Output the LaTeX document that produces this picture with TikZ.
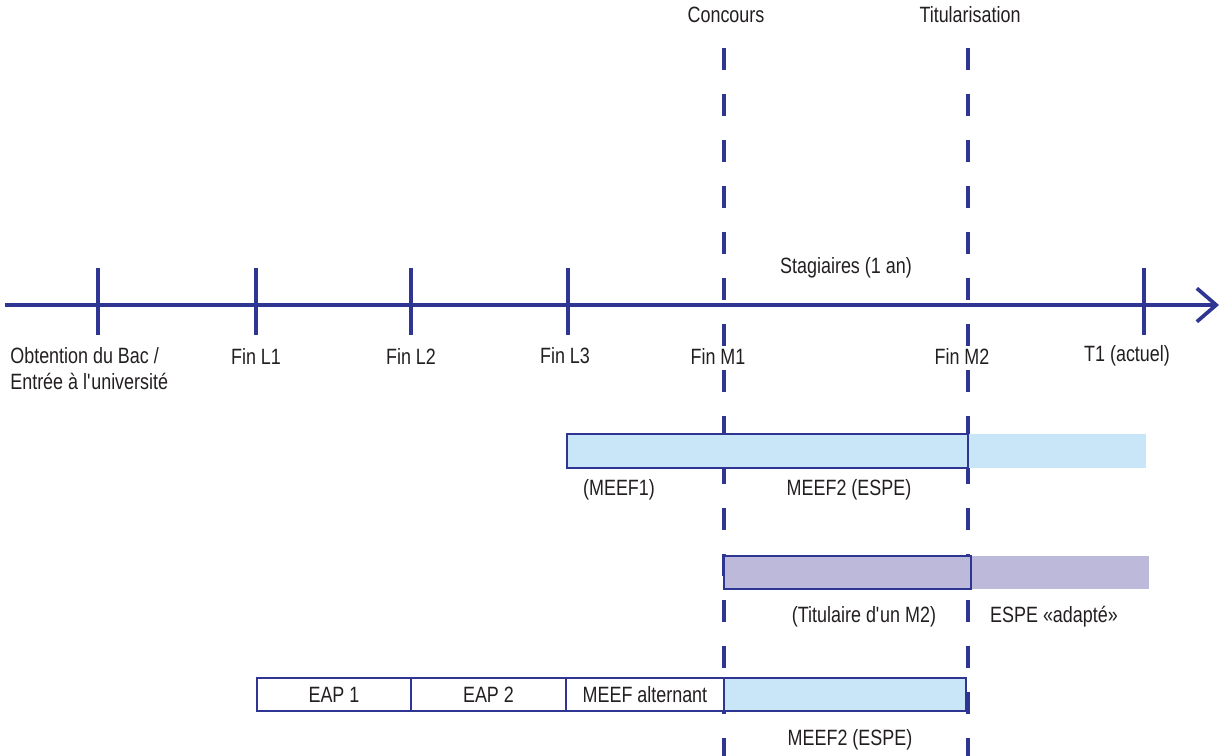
\documentclass[tikz,border=0pt]{standalone}
\usepackage{fontspec}
\setmainfont{Liberation Sans}[FakeStretch=0.81]
\usepackage{xcolor}
\usetikzlibrary{arrows.meta, positioning}

\definecolor{axisblue}{HTML}{2E3592}
\definecolor{barblue}{HTML}{C9E6F9}
\definecolor{barlilac}{HTML}{BDB9DA}
\definecolor{txtgray}{HTML}{231F20}

\begin{document}
\begin{tikzpicture}[
    x=0.02cm, y=-0.02cm,
    every node/.style={font=\fontsize{12.6}{14.7}\selectfont, text=txtgray, inner sep=0pt},
    timeaxis/.style={line width=2.1pt, draw=axisblue, -{Straight Barb[length=11pt, width=19pt, line width=2.1pt]}},
    tick/.style={line width=2.1pt, draw=axisblue},
    milestone/.style={line width=2.1pt, draw=axisblue, dash pattern=on 0.44cm off 0.48cm},
    barbox/.style={rectangle, draw=axisblue, line width=1.2pt, outer sep=0pt, minimum height=0.67cm, align=center},
    barext/.style={rectangle, outer sep=0pt, minimum height=0.67cm}
]
\useasboundingbox (0,0) rectangle (1223,756);

% jalons
\coordinate (concours) at (724,48);
\coordinate (concoursend) at (724,756);
\coordinate (titu) at (968,48);
\coordinate (tituend) at (968,756);
\draw[milestone] (concours) -- (concoursend);
\draw[milestone] (titu) -- (tituend);
\node (lconcours) at (726,15) {Concours};
\node (ltitu) at (970,15) {Titularisation};

% axe du temps
\coordinate (axstart) at (5,305);
\coordinate (axend) at (1219,305);
\draw[timeaxis] (axstart) -- (axend);
\coordinate (bac) at (98,305);
\coordinate (l1) at (256,305);
\coordinate (l2) at (411,305);
\coordinate (l3) at (568,305);
\coordinate (t1) at (1144,305);
\foreach \c in {bac,l1,l2,l3,t1}
    \draw[tick] (\c) ++(0,-37) -- ++(0,67);

\node (stag) at (846,268) {Stagiaires (1 an)};
\node[align=left, anchor=west] (lbac) at (10,369) {Obtention du Bac /\\Entrée à l\textquotesingle université};
\node (ll1) at (256,356) {Fin L1};
\node (ll2) at (411,356) {Fin L2};
\node (ll3) at (565,356) {Fin L3};
\node (lm1) at (718,356) {Fin M1};
\node (lm2) at (962,356) {Fin M2};
\node (lt1) at (1127,356) {T1 (actuel)};

% parcours 1
\node[barext, fill=barblue, minimum width=3.56cm, anchor=west] (meefx) at (968,451) {};
\node[barbox, fill=barblue, minimum width=8.02cm, anchor=west] (meef) at (567,451) {};
\node (lmeef1) at (619,490) {(MEEF1)};
\node (lmeef2) at (849,490) {MEEF2 (ESPE)};

% parcours 2
\node[barext, fill=barlilac, minimum width=3.56cm, anchor=west] (adaptx) at (971,572.5) {};
\node[barbox, fill=barlilac, minimum width=4.94cm, anchor=west] (adapt) at (724,572.5) {};
\node (ltitulaire) at (864,617) {(Titulaire d\textquotesingle un M2)};
\node (ladapt) at (1054,617) {ESPE «adapté»};

% parcours 3
\node[barbox, fill=white, minimum width=3.08cm, anchor=west] (eap1) at (257,694.5) {EAP 1};
\node[barbox, fill=white, minimum width=3.10cm, right=0pt of eap1] (eap2) {EAP 2};
\node[barbox, fill=white, minimum width=3.16cm, right=0pt of eap2] (alt) {MEEF alternant};
\node[barbox, fill=barblue, minimum width=4.84cm, right=0pt of alt] (espe) {};
\node (lespe) at (850,740) {MEEF2 (ESPE)};

\end{tikzpicture}
\end{document}
